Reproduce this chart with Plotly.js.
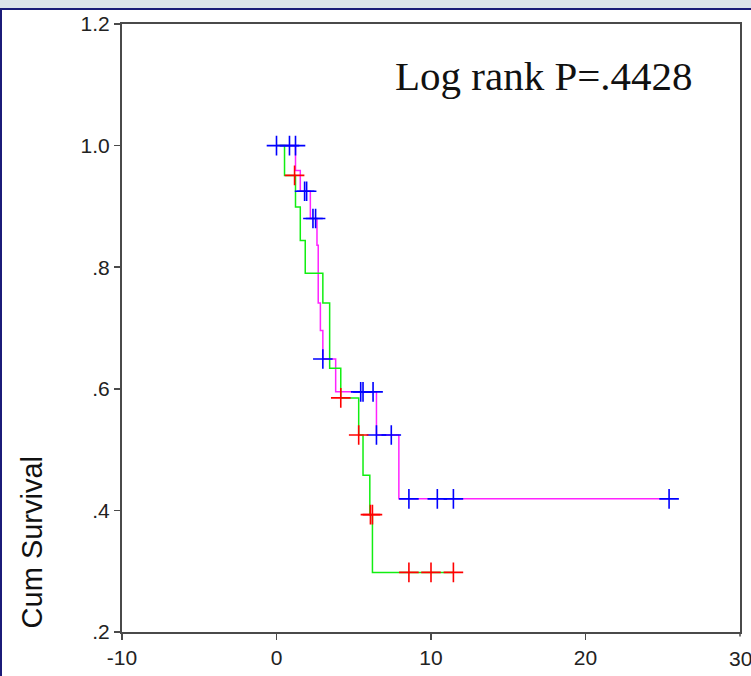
<!DOCTYPE html>
<html>
<head>
<meta charset="utf-8">
<script src="https://cdn.plot.ly/plotly-3.0.1.min.js"></script>
<style>
  html, body { margin: 0; padding: 0; background: #ffffff; }
  #wrap { position: relative; width: 751px; height: 676px; overflow: hidden; }
  #chart { position: absolute; left: 0; top: 0; width: 751px; height: 676px; }
  .deco { position: absolute; pointer-events: none; }
</style>
</head>
<body>
<div id="wrap">
  <div id="chart"></div>
  <div class="deco" style="left:0;top:0;width:751px;height:9px;background:#dde3ea;"></div>
  <div class="deco" style="left:0;top:8px;width:751px;height:2px;background:#1b1b78;"></div>
  <div class="deco" style="left:0;top:8px;width:2px;height:668px;background:#1b1b78;"></div>
</div>
<script>
// ---- Data ----
// Group 1 (magenta line, blue censor marks)
var eventTimes1 = [1.23, 1.54, 2.19, 2.62, 2.70, 2.84, 3.00, 3.83, 6.47, 7.92];
var surv1       = [0.959, 0.925, 0.880, 0.836, 0.741, 0.696, 0.649, 0.595, 0.524, 0.419];
var lastTime1   = 25.41;
var censorT1    = [0, 0.84, 1.23, 1.82, 1.95, 2.36, 2.53, 3.00, 5.45, 5.60, 6.25, 6.47, 7.43, 8.57, 10.41, 11.45, 25.41];
var censorS1    = [1.0, 1.0, 1.0, 0.925, 0.925, 0.880, 0.880, 0.649, 0.595, 0.595, 0.595, 0.524, 0.524, 0.419, 0.419, 0.419, 0.419];

// Group 2 (green line, red censor marks)
var eventTimes2 = [0.52, 1.23, 1.54, 1.86, 3.00, 3.44, 4.16, 5.32, 5.60, 6.04, 6.21];
var surv2       = [0.951, 0.899, 0.844, 0.790, 0.741, 0.634, 0.585, 0.524, 0.458, 0.393, 0.298];
var lastTime2   = 11.45;
var censorT2    = [1.17, 4.16, 5.32, 6.08, 6.21, 8.57, 10.0, 11.45];
var censorS2    = [0.951, 0.585, 0.524, 0.393, 0.393, 0.298, 0.298, 0.298];

var xTickVals = [-10, 0, 10, 20, 30];
var yTickVals = [0.2, 0.4, 0.6, 0.8, 1.0, 1.2];
var yTickText = ['.2', '.4', '.6', '.8', '1.0', '1.2'];
var annotText = 'Log rank P=.4428';
var yTitle = 'Cum Survival';

function stepCurve(times, surv, lastT) {
  var xs = [0].concat(times).concat([lastT]);
  var ys = [1.0].concat(surv).concat([surv[surv.length - 1]]);
  return {x: xs, y: ys};
}
var c1 = stepCurve(eventTimes1, surv1, lastTime1);
var c2 = stepCurve(eventTimes2, surv2, lastTime2);

var traces = [
  {x: c1.x, y: c1.y, mode: 'lines', line: {shape: 'hv', color: '#ff22ff', width: 1.5}, hoverinfo: 'skip'},
  {x: c2.x, y: c2.y, mode: 'lines', line: {shape: 'hv', color: '#11ee11', width: 1.5}, hoverinfo: 'skip'},
  {x: censorT1, y: censorS1, mode: 'markers',
   marker: {symbol: 'cross-thin', size: 14, color: '#0000ff', line: {color: '#0000ff', width: 1.6}}},
  {x: censorT2, y: censorS2, mode: 'markers',
   marker: {symbol: 'cross-thin', size: 14, color: '#ff0000', line: {color: '#ff0000', width: 1.6}}}
];

var tickFont = {family: 'Liberation Sans, Arial, sans-serif', size: 21, color: '#222222'};
var axisCommon = {
  showline: true, mirror: true, linecolor: '#4a4a4a', linewidth: 2,
  ticks: 'outside', ticklen: 6, tickcolor: '#4a4a4a', tickwidth: 1.5,
  showgrid: false, zeroline: false,
  tickfont: tickFont
};

// the last x tick label sits partly outside the window, as in the reference
var lastX = xTickVals[xTickVals.length - 1];
var shownX = xTickVals.slice(0, -1);

var layout = {
  width: 751, height: 676,
  margin: {l: 122, r: 11, t: 24, b: 44, pad: 0},
  paper_bgcolor: '#ffffff', plot_bgcolor: '#ffffff',
  showlegend: false,
  xaxis: Object.assign({}, axisCommon, {range: [-10, 30], tickmode: 'array',
    tickvals: shownX, ticktext: shownX.map(String)}),
  yaxis: Object.assign({}, axisCommon, {range: [0.2, 1.2], tickmode: 'array', tickvals: yTickVals,
    ticktext: yTickText}),
  annotations: [
    {text: annotText, xref: 'paper', yref: 'paper', x: 0.683, y: 0.914, xanchor: 'center', yanchor: 'middle',
     showarrow: false, font: {family: 'Liberation Serif, Times New Roman, serif', size: 41, color: '#111111'}},
    {text: yTitle, xref: 'paper', yref: 'paper', x: -0.145, y: 0.148, xanchor: 'center', yanchor: 'middle',
     textangle: -90, showarrow: false,
     font: {family: 'Liberation Sans, Arial, sans-serif', size: 29, color: '#111111'}},
    {text: String(lastX), xref: 'x', yref: 'paper', x: lastX, y: -0.043, xanchor: 'center', yanchor: 'middle',
     showarrow: false, font: tickFont},
    {text: '', xref: 'x', yref: 'paper', x: lastX, y: 0, ax: 0, ay: 6, axref: 'pixel', ayref: 'pixel',
     showarrow: true, arrowhead: 0, arrowwidth: 1.5, arrowcolor: '#4a4a4a', standoff: 0}
  ]
};

Plotly.newPlot('chart', traces, layout, {displayModeBar: false, staticPlot: true});
</script>
</body>
</html>
